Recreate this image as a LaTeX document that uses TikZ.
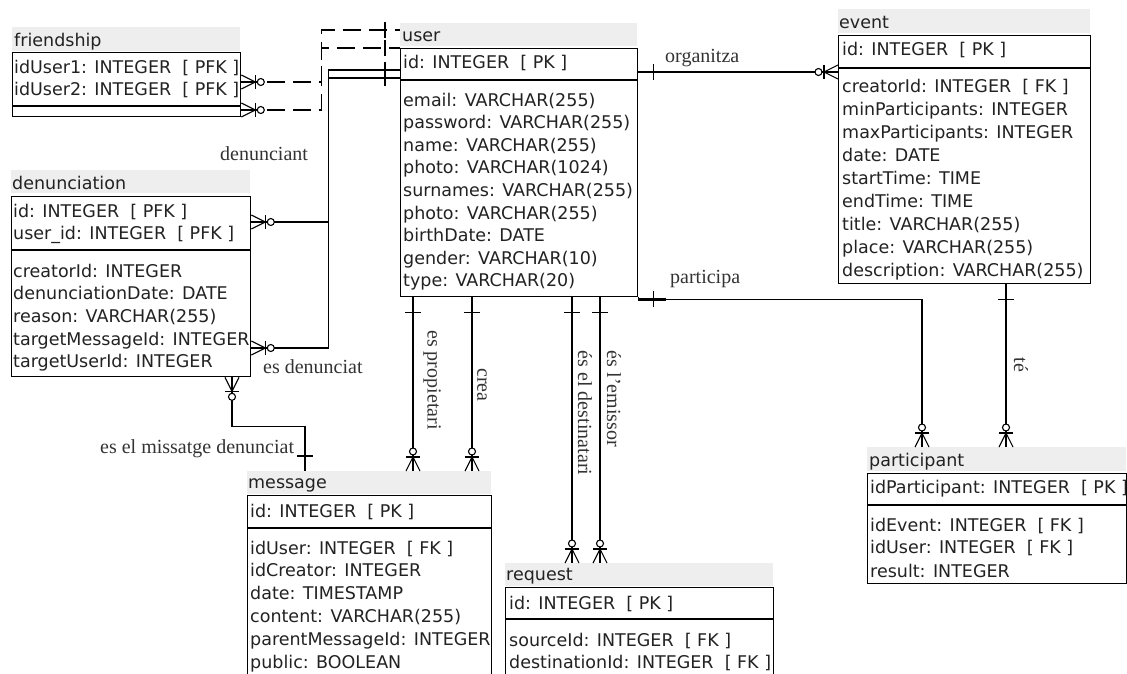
\documentclass[tikz,border=0pt]{standalone}
\usepackage{fontspec}
\usetikzlibrary{calc}
\newfontfamily\tabfont{DejaVu Sans}
\newfontfamily\lblfont{Liberation Serif}
\definecolor{headgray}{HTML}{EEEEEE}
\definecolor{txtgray}{HTML}{222222}
\definecolor{lblgray}{HTML}{333333}
\tikzset{
  tbox/.style={draw, line width=1.3pt, fill=white, inner sep=0pt, anchor=north west},
  thead/.style={fill=headgray, inner sep=0pt, anchor=north west},
  divline/.style={line width=1.3pt},
  ttext/.style={anchor=base west, inner sep=0pt, font=\tabfont\fontsize{17.5}{20}\selectfont, text=txtgray},
  lbl/.style={inner sep=0pt, font=\lblfont\fontsize{20}{22}\selectfont, text=lblgray},
  conn/.style={line width=1.1pt},
  fkconn/.style={conn, dash pattern=on 18pt off 8pt},
  one/.pic={\draw[conn] (15,-8) -- (15,8);},
  onethick/.pic={\draw[line width=2.4pt] (0,0) -- (28,0); \draw[conn] (15,-8) -- (15,8);},
  manyopt/.pic={\draw[conn] (0,7) -- (14,0) -- (0,-7); \draw[conn] (14,-7) -- (14,7);
                \draw[conn, fill=white] (19.5,0) circle (3.5pt);}
}
\begin{document}
\begin{tikzpicture}[x=1pt,y=-1pt]
\useasboundingbox (0,0) rectangle (1127,673);
\clip (0,0) rectangle (1127,673);
\fill[white] (0,0) rectangle (1127,673);

% ---------- friendship ----------
\node[thead, minimum width=228pt, minimum height=24pt] (frh) at (12,27) {};
\node[ttext] (frt) at (14,46) {friendship};
\node[tbox, minimum width=228pt, minimum height=64pt] (fr) at (12,52) {};
\draw[divline] ($(fr.north west)+(0,54)$) -- ($(fr.north east)+(0,54)$);
\node[ttext] (fr1) at (14,73) {idUser1: INTEGER\ \ [ PFK ]};
\node[ttext] (fr2) at (14,95) {idUser2: INTEGER\ \ [ PFK ]};

% ---------- user ----------
\node[thead, minimum width=237pt, minimum height=23pt] (ush) at (400,23) {};
\node[ttext] (ust) at (402,41) {user};
\node[tbox, minimum width=237pt, minimum height=248pt] (us) at (400,48) {};
\draw[divline] ($(us.north west)+(0,32)$) -- ($(us.north east)+(0,32)$);
\node[ttext] (usid) at (403,68) {id: INTEGER\ \ [ PK ]};
\foreach \txt [count=\i] in {email: VARCHAR(255), password: VARCHAR(255), name: VARCHAR(255),
  photo: VARCHAR(1024), surnames: VARCHAR(255), photo: VARCHAR(255), birthDate: DATE,
  gender: VARCHAR(10), type: VARCHAR(20)}
  \node[ttext] (us-r\i) at (403,{106+22.6*(\i-1)}) {\txt};

% ---------- event ----------
\node[thead, minimum width=252pt, minimum height=24pt] (evh) at (838,9) {};
\node[ttext] (evt) at (839,28) {event};
\node[tbox, minimum width=252pt, minimum height=248pt] (ev) at (838,35) {};
\draw[divline] ($(ev.north west)+(0,33)$) -- ($(ev.north east)+(0,33)$);
\node[ttext] (evid) at (842,55) {id: INTEGER\ \ [ PK ]};
\foreach \txt [count=\i] in {creatorId: INTEGER\ \ [ FK ], minParticipants: INTEGER,
  maxParticipants: INTEGER, date: DATE, startTime: TIME, endTime: TIME,
  title: VARCHAR(255), place: VARCHAR(255), description: VARCHAR(255)}
  \node[ttext] (ev-r\i) at (842,{92+23.1*(\i-1)}) {\txt};

% ---------- denunciation ----------
\node[thead, minimum width=239pt, minimum height=23pt] (deh) at (11,170) {};
\node[ttext] (det) at (12,189) {denunciation};
\node[tbox, minimum width=239pt, minimum height=180pt] (de) at (11,196) {};
\draw[divline] ($(de.north west)+(0,54)$) -- ($(de.north east)+(0,54)$);
\node[ttext] (de1) at (13,217) {id: INTEGER\ \ [ PFK ]};
\node[ttext] (de2) at (13,239) {user\_id: INTEGER\ \ [ PFK ]};
\foreach \txt [count=\i] in {creatorId: INTEGER, denunciationDate: DATE, reason: VARCHAR(255),
  targetMessageId: INTEGER, targetUserId: INTEGER}
  \node[ttext] (de-r\i) at (13,{277+22.7*(\i-1)}) {\txt};

% ---------- message ----------
\node[thead, minimum width=244pt, minimum height=23pt] (meh) at (247,471) {};
\node[ttext] (met) at (248,488) {message};
\node[tbox, minimum width=244pt, minimum height=200pt] (me) at (247,495) {};
\draw[divline] ($(me.north west)+(0,33)$) -- ($(me.north east)+(0,33)$);
\node[ttext] (meid) at (250,517) {id: INTEGER\ \ [ PK ]};
\foreach \txt [count=\i] in {idUser: INTEGER\ \ [ FK ], idCreator: INTEGER, date: TIMESTAMP,
  content: VARCHAR(255), parentMessageId: INTEGER, public: BOOLEAN}
  \node[ttext] (me-r\i) at (250,{554+22.8*(\i-1)}) {\txt};

% ---------- request ----------
\node[thead, minimum width=268pt, minimum height=23pt] (rqh) at (505,563) {};
\node[ttext] (rqt) at (506,580) {request};
\node[tbox, minimum width=268pt, minimum height=120pt] (rq) at (505,587) {};
\draw[divline] ($(rq.north west)+(0,32)$) -- ($(rq.north east)+(0,32)$);
\node[ttext] (rqid) at (509,609) {id: INTEGER\ \ [ PK ]};
\node[ttext] (rq1) at (509,646) {sourceId: INTEGER\ \ [ FK ]};
\node[ttext] (rq2) at (509,668) {destinationId: INTEGER\ \ [ FK ]};

% ---------- participant ----------
\node[thead, minimum width=259pt, minimum height=24pt] (pah) at (867,447) {};
\node[ttext] (pat) at (869,466) {participant};
\node[tbox, minimum width=259pt, minimum height=110pt] (pa) at (867,473) {};
\draw[divline] ($(pa.north west)+(0,32)$) -- ($(pa.north east)+(0,32)$);
\node[ttext] (paid) at (870,493) {idParticipant: INTEGER\ \ [ PK ]};
\node[ttext] (pa1) at (870,531) {idEvent: INTEGER\ \ [ FK ]};
\node[ttext] (pa2) at (870,553) {idUser: INTEGER\ \ [ FK ]};
\node[ttext] (pa3) at (870,577) {result: INTEGER};

% ---------- connector end points ----------
\coordinate (fr1e) at ($(fr.north east)+(0,30)$);
\coordinate (fr2e) at ($(fr.north east)+(0,58)$);
\coordinate (usf1) at ($(ush.north west)+(0,25)$);
\coordinate (usf2) at ($(ush.north west)+(0,7)$);
\coordinate (usd1) at ($(us.north west)+(0,22)$);
\coordinate (usd2) at ($(us.north west)+(0,30)$);
\coordinate (de1e) at ($(de.north east)+(0,26)$);
\coordinate (de2e) at ($(de.north east)+(0,152)$);
\coordinate (orgA) at ($(us.north east)+(0,24)$);
\coordinate (orgB) at (orgA -| ev.west);
\coordinate (parA) at ($(us.south east)+(0,2)$);
\coordinate (parB) at ($(pah.north west)+(55,0)$);
\coordinate (teA) at ($(ev.south west)+(168,0)$);
\coordinate (teB) at (teA |- pah.north);
\coordinate (propA) at ($(us.south west)+(13,0)$);
\coordinate (propB) at (propA |- meh.north);
\coordinate (creaA) at ($(us.south west)+(72,0)$);
\coordinate (creaB) at (creaA |- meh.north);
\coordinate (destA) at ($(us.south west)+(172,0)$);
\coordinate (destB) at (destA |- rqh.north);
\coordinate (emiA) at ($(us.south west)+(200,0)$);
\coordinate (emiB) at (emiA |- rqh.north);
\coordinate (msgA) at ($(de.south west)+(221,0)$);
\coordinate (msgB) at ($(meh.north west)+(58,0)$);

% ---------- connectors ----------
% friendship -> user (dashed)
\draw[fkconn] (fr1e) -- ++(80,0) |- (usf1);
\draw[fkconn] (fr2e) -- ++(80,0) |- (usf2);
\pic at (fr1e) {manyopt};
\pic at (fr2e) {manyopt};
\pic[rotate=180] at (usf1) {one};
\pic[rotate=180] at (usf2) {one};

% denunciant / es denunciat
\draw[conn] (de1e) -- ++(77,0) |- (usd1);
\draw[conn] (de2e) -- ++(77,0) |- (usd2);
\pic at (de1e) {manyopt};
\draw[line width=2.4pt] (de2e) -- ++(28,0);
\pic at (de2e) {manyopt};
\pic[rotate=180] at (usd1) {onethick};
\pic[rotate=180] at (usd2) {onethick};

% es el missatge denunciat
\draw[conn] (msgA) -- ++(0,49) -| (msgB);
\pic[rotate=-90] at (msgA) {manyopt};
\pic[rotate=90] at (msgB) {one};

% organitza
\draw[conn] (orgA) -- (orgB);
\pic at (orgA) {onethick};
\pic[rotate=180] at (orgB) {manyopt};

% participa
\draw[conn] (us.south east) -- (parA) -| (parB);
\pic at (parA) {onethick};
\draw[line width=2.4pt] (parB) -- ++(0,-26);
\pic[rotate=90] at (parB) {manyopt};

% te
\draw[conn] (teA) -- (teB);
\pic[rotate=-90] at (teA) {one};
\pic[rotate=90] at (teB) {manyopt};

% es propietari, crea
\draw[conn] (propA) -- (propB);
\pic[rotate=-90] at (propA) {one};
\pic[rotate=90] at (propB) {manyopt};
\draw[line width=1.6pt] (creaA) -- (creaB);
\pic[rotate=-90] at (creaA) {one};
\pic[rotate=90] at (creaB) {manyopt};

% es el destinatari, es l'emissor
\draw[conn] (destA) -- (destB);
\pic[rotate=-90] at (destA) {one};
\pic[rotate=90] at (destB) {manyopt};
\draw[conn] (emiA) -- (emiB);
\pic[rotate=-90] at (emiA) {one};
\pic[rotate=90] at (emiB) {manyopt};

% ---------- labels ----------
\node[lbl, anchor=base west] (lorg) at (665,62) {organitza};
\node[lbl, anchor=base west] (lpar) at (670,283) {participa};
\node[lbl, anchor=base west] (lden) at (220,160) {denunciant};
\node[lbl, anchor=base west] (ldnt) at (263,373) {es denunciat};
\node[lbl, anchor=base west] (lmsg) at (100,453) {es el missatge denunciat};
\node[lbl, rotate=-90] (lprop) at (432,380) {es propietari};
\node[lbl, rotate=-90] (lcrea) at (482,385) {crea};
\node[lbl, rotate=-90] (ldest) at (585,413) {és el destinatari};
\node[lbl, rotate=-90] (lemi) at (614,399) {és l’emissor};
\node[lbl, rotate=-90] (lte) at (1021,365) {té};
\end{tikzpicture}
\end{document}
